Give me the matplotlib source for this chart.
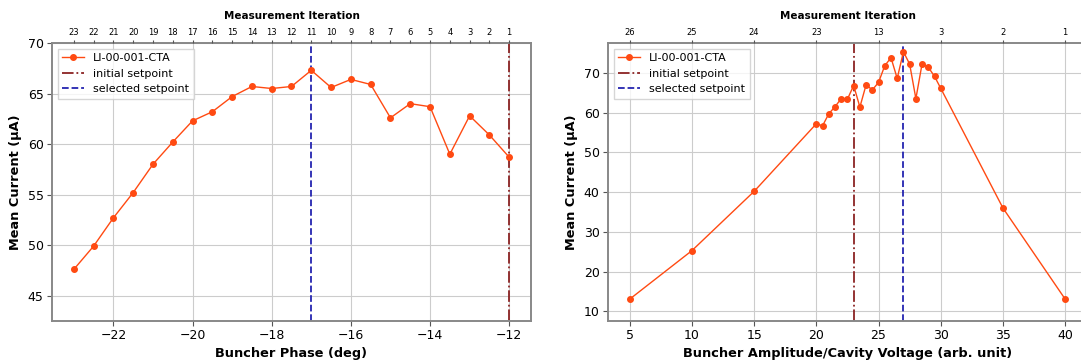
import matplotlib.pyplot as plt

# buncher phase scan
phase = [-23, -22.5, -22, -21.5, -21, -20.5, -20, -19.5, -19, -18.5, -18, -17.5,
         -17, -16.5, -16, -15.5, -15, -14.5, -14, -13.5, -13, -12.5, -12]
phase_current = [47.6, 49.9, 52.7, 55.2, 58.0, 60.2, 62.3, 63.2, 64.7, 65.7, 65.5, 65.7,
                 67.3, 65.6, 66.4, 65.9, 62.6, 64.0, 63.7, 59.0, 62.8, 60.9, 58.7]
phase_iter = list(range(23, 0, -1))
phase_initial = -12
phase_selected = -17

# buncher amplitude scan
amp = [5, 10, 15, 20, 20.5, 21, 21.5, 22, 22.5, 23, 23.5, 24, 24.5, 25, 25.5,
       26, 26.5, 27, 27.5, 28, 28.5, 29, 29.5, 30, 35, 40]
amp_current = [13.1, 25.3, 40.2, 57.2, 56.7, 59.7, 61.5, 63.5, 63.4, 66.8, 61.4, 67.0,
               65.7, 67.6, 71.8, 73.8, 68.6, 75.3, 72.2, 63.5, 72.3, 71.4, 69.1, 66.1,
               36.0, 13.1]
amp_iter = list(range(26, 0, -1))
amp_initial = 23
amp_selected = 27

device = 'LI-00-001-CTA'
c_line = '#ff4a12'
c_init = '#8b2323'
c_sel = '#2424b0'

fig = plt.figure(figsize=(10.81, 3.63), dpi=100)
ax1 = fig.add_axes([0.0481, 0.1157, 0.4431, 0.7658])
ax2 = fig.add_axes([0.5624, 0.1157, 0.4431, 0.7658])


def draw(ax, x, y, it, x0, x1, top_step, xlabel, ylim, yticks, xticks):
    ax.plot(x, y, '-o', color=c_line, lw=1, ms=4, label=device, zorder=3)
    ax.axvline(x0, color=c_init, ls='-.', lw=1.3, label='initial setpoint')
    ax.axvline(x1, color=c_sel, ls='--', lw=1.3, label='selected setpoint')
    ax.set_ylim(*ylim)
    ax.set_yticks(yticks)
    ax.set_xticks(xticks)
    ax.grid(True, color='#cccccc', lw=0.8)
    ax.tick_params(labelsize=9, color='#555555', pad=2.5)
    for s in ax.spines.values():
        s.set_color('#888888')
        s.set_linewidth(1.4)
    ax.set_xlabel(xlabel, fontsize=9.3, fontweight='bold', labelpad=3)
    ax.set_ylabel('Mean Current (µA)', fontsize=9.3, fontweight='bold')
    ax.legend(loc='upper left', fontsize=8, framealpha=0.8, edgecolor='#cccccc',
              fancybox=False)

    # iteration numbers along the top
    top = ax.twiny()
    top.set_xlim(ax.get_xlim())
    if top_step:
        pos = [p for p in x if p % top_step == 0]
    else:
        pos = list(x)
    labs = [str(it[x.index(p)]) for p in pos]
    top.set_xticks(pos)
    top.set_xticklabels(labs)
    top.tick_params(labelsize=6, length=2, pad=2, color='#555555')
    top.set_xlabel('Measurement Iteration', fontsize=7.5, fontweight='bold', labelpad=7)
    for s in top.spines.values():
        s.set_visible(False)


draw(ax1, phase, phase_current, phase_iter, phase_initial, phase_selected, 0,
     'Buncher Phase (deg)', (42.5, 70), [45, 50, 55, 60, 65, 70], [-22, -20, -18, -16, -14, -12])
draw(ax2, amp, amp_current, amp_iter, amp_initial, amp_selected, 5,
     'Buncher Amplitude/Cavity Voltage (arb. unit)', (7.6, 77.5),
     [10, 20, 30, 40, 50, 60, 70], [5, 10, 15, 20, 25, 30, 35, 40])

fig.savefig('out.png', dpi=100)
